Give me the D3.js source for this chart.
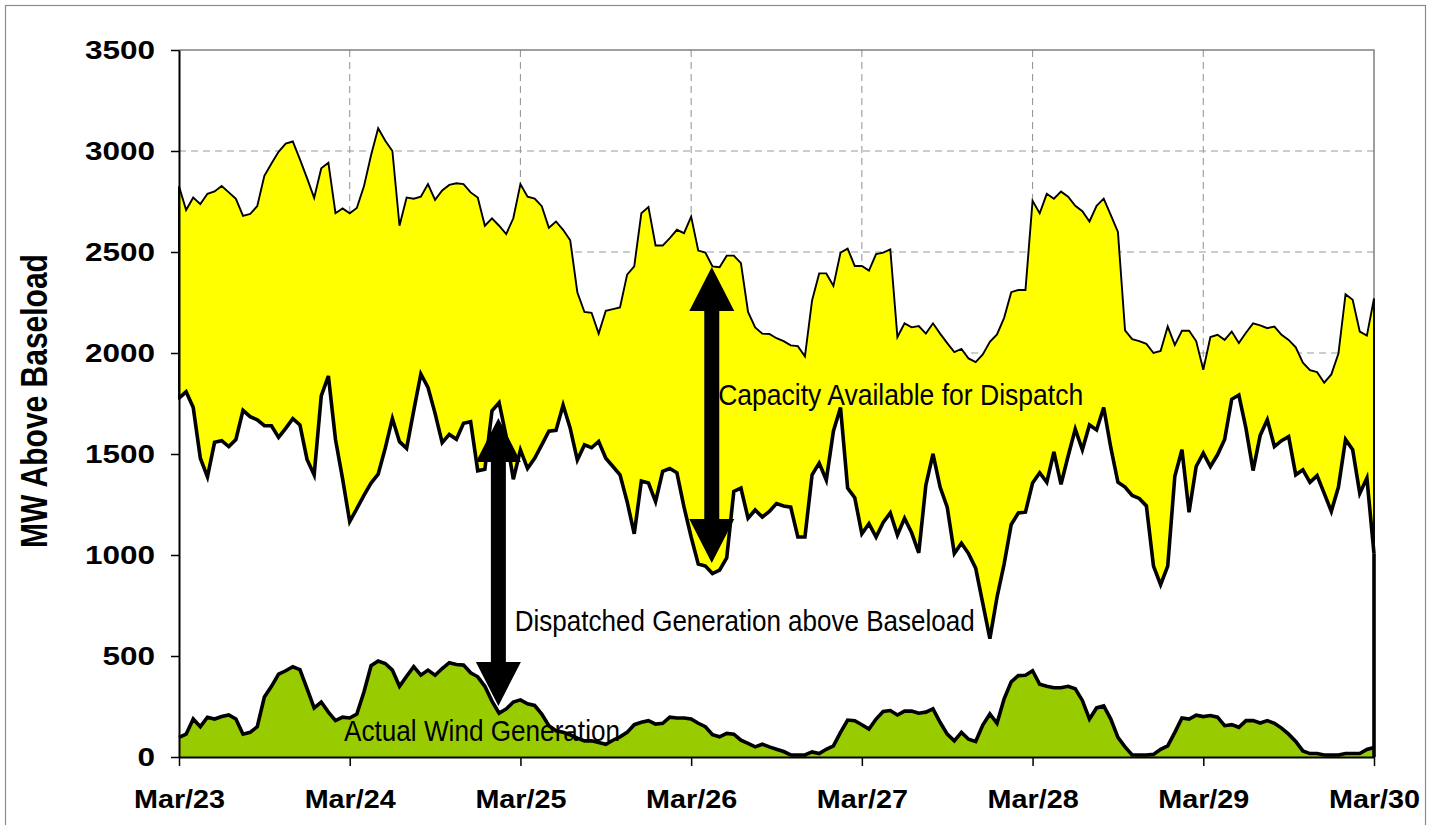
<!DOCTYPE html>
<html>
<head>
<meta charset="utf-8">
<script src="https://cdn.jsdelivr.net/npm/d3@7"></script>
<style>
  html, body { margin: 0; padding: 0; background: #fff; }
  svg { display: block; }
</style>
</head>
<body>
<svg id="chart" width="1438" height="825"></svg>
<script>
// ---------------- DATA (hourly, Mar/23 00:00 .. Mar/30 00:00) ----------------
const dayLabels = ["Mar/23","Mar/24","Mar/25","Mar/26","Mar/27","Mar/28","Mar/29","Mar/30"];
const yTicks = [0, 500, 1000, 1500, 2000, 2500, 3000, 3500];

// Total capacity available above baseload (MW) - upper edge of yellow band
const capacity = [
2825,2708,2770,2737,2788,2800,2827,2795,2763,2679,2688,2727,2877,2938,2996,3037,3047,2959,2866,2768,2914,2942,2692,2716,
2692,2718,2825,2979,3113,3051,3000,2630,2770,2764,2774,2836,2758,2805,2832,2840,2836,2795,2770,2630,2667,2630,2589,2667,
2836,2774,2764,2727,2620,2651,2610,2558,2301,2203,2199,2096,2209,2217,2225,2388,2429,2692,2723,2532,2532,2569,2610,2593,
2675,2507,2497,2429,2425,2482,2482,2445,2203,2127,2096,2094,2073,2059,2038,2034,1983,2260,2394,2394,2332,2497,2517,2431,
2431,2408,2490,2497,2513,2079,2147,2127,2133,2096,2147,2096,2049,2004,2020,1973,1955,1993,2055,2092,2174,2301,2312,2312,
2753,2692,2788,2764,2799,2774,2729,2702,2651,2729,2764,2682,2599,2112,2069,2059,2045,2000,2010,2131,2040,2110,2110,2059,
1917,2079,2090,2065,2106,2049,2100,2147,2137,2123,2131,2090,2065,2028,1952,1915,1905,1853,1894,1997,2291,2264,2106,2086,
2270];

// Dispatched generation above baseload (MW) - thick line
const dispatched = [
1777,1808,1730,1479,1387,1558,1566,1537,1572,1716,1685,1669,1640,1640,1582,1627,1675,1644,1473,1397,1788,1886,1572,1377,
1165,1229,1295,1356,1400,1530,1676,1561,1528,1715,1896,1830,1701,1556,1597,1573,1652,1660,1417,1424,1714,1754,1586,1375,
1520,1429,1479,1545,1613,1617,1742,1627,1470,1545,1531,1562,1479,1438,1397,1264,1105,1366,1356,1264,1414,1428,1407,1237,
1089,955,945,908,925,986,1315,1331,1182,1223,1188,1216,1255,1243,1237,1089,1089,1397,1455,1371,1613,1730,1331,1284,
1105,1155,1089,1161,1208,1099,1182,1110,1011,1346,1500,1336,1237,1007,1058,1007,935,760,586,791,955,1151,1208,1212,
1356,1407,1360,1510,1350,1490,1623,1521,1644,1619,1730,1531,1360,1336,1295,1280,1243,945,853,945,1390,1521,1212,1438,
1504,1438,1496,1572,1771,1792,1627,1418,1592,1669,1537,1566,1586,1397,1422,1360,1393,1305,1216,1336,1572,1521,1305,1381,
1007];

// Actual wind generation (MW) - green area
const wind = [
97,113,188,150,197,188,200,208,188,113,122,150,297,350,410,427,447,433,338,243,272,222,180,197,
193,213,322,452,475,463,430,350,400,447,405,430,405,438,467,458,455,417,397,350,277,217,238,272,
283,263,255,213,155,130,122,110,93,80,80,72,63,83,100,122,160,172,180,163,167,197,193,193,
188,167,150,110,100,117,113,83,67,50,63,50,38,27,10,10,10,25,17,38,55,122,183,180,
160,138,188,225,230,208,227,228,217,222,238,172,113,80,122,88,77,158,213,167,288,372,403,405,
427,360,350,343,343,350,338,280,188,243,253,188,97,50,10,10,10,13,38,55,122,193,188,207,
200,205,197,155,160,147,180,180,168,180,167,143,113,77,30,17,17,10,10,10,17,17,17,37,
47];

// ---------------- LAYOUT ----------------
const svg = d3.select("#chart");
const L = 179, R = 1374, T = 50, B = 757;
const nH = capacity.length - 1;
const x = d3.scaleLinear().domain([0, nH]).range([L, R]);
const y = d3.scaleLinear().domain([0, 3500]).range([B, T]);
const hours = d3.range(capacity.length);

// outer chart border
svg.append("rect").attr("x", 5.5).attr("y", 5.5).attr("width", 1420).attr("height", 830)
  .attr("fill", "none").attr("stroke", "#8c8c8c").attr("stroke-width", 1.2);

// gridlines
const grid = svg.append("g");
grid.selectAll("line.h").data(yTicks.filter(v => v > 0 && v < 3500)).join("line")
  .attr("x1", L).attr("x2", R).attr("y1", d => y(d)).attr("y2", d => y(d))
  .attr("stroke", "#9a9a9a").attr("stroke-width", 1.1).attr("stroke-dasharray", "7,5");
grid.selectAll("line.v").data(d3.range(1, dayLabels.length - 1)).join("line")
  .attr("x1", d => x(d * 24)).attr("x2", d => x(d * 24)).attr("y1", T).attr("y2", B)
  .attr("stroke", "#9a9a9a").attr("stroke-width", 1.1).attr("stroke-dasharray", "7,5");

// plot-area border (top & right)
svg.append("path").attr("d", `M${L},${T}H${R}V${B}`)
  .attr("fill", "none").attr("stroke", "#808080").attr("stroke-width", 1.5);

// areas
const yellowArea = d3.area().x(i => x(i)).y0(i => y(dispatched[i])).y1(i => y(capacity[i]));
const whiteArea = d3.area().x(i => x(i)).y0(i => y(wind[i])).y1(i => y(dispatched[i]));
const greenArea = d3.area().x(i => x(i)).y0(y(0)).y1(i => y(wind[i]));

svg.append("path").attr("d", yellowArea(hours)).attr("fill", "#ffff00")
  .attr("stroke", "#000").attr("stroke-width", 1.9).attr("stroke-linejoin", "miter");
svg.append("path").attr("d", whiteArea(hours)).attr("fill", "#ffffff");
svg.append("path").attr("d", greenArea(hours)).attr("fill", "#99cc00");

// thick lines
const line = (arr) => d3.line().x(i => x(i)).y(i => y(arr[i]))(hours);
svg.append("path").attr("d", line(dispatched)).attr("fill", "none")
  .attr("stroke", "#000").attr("stroke-width", 3.6).attr("stroke-linejoin", "miter");
svg.append("path").attr("d", line(wind)).attr("fill", "none")
  .attr("stroke", "#000").attr("stroke-width", 3.6).attr("stroke-linejoin", "miter");
// right closing edge of the stacked areas
svg.append("line").attr("x1", x(nH)).attr("x2", x(nH))
  .attr("y1", y(dispatched[nH])).attr("y2", y(0))
  .attr("stroke", "#000").attr("stroke-width", 3.6);

// stretch helper (reference text is horizontally stretched)
function stretch(sel, f) {
  sel.each(function () {
    const w = this.getComputedTextLength();
    d3.select(this).attr("textLength", w * f).attr("lengthAdjust", "spacingAndGlyphs");
  });
}

// y axis
const yAxis = svg.append("g").attr("transform", `translate(${L},0)`)
  .call(d3.axisLeft(y).tickValues(yTicks).tickFormat(d3.format("d"))
    .tickSize(8).tickSizeOuter(0).tickPadding(16));
yAxis.select(".domain").attr("stroke", "#000").attr("stroke-width", 2);
yAxis.selectAll(".tick line").attr("stroke", "#000").attr("stroke-width", 1.5);
yAxis.selectAll(".tick text")
  .attr("font-family", "'Liberation Sans', Arial, sans-serif")
  .attr("font-weight", "bold").attr("font-size", 25).attr("fill", "#000");
stretch(yAxis.selectAll(".tick text"), 1.26);

// x axis
const xAxis = svg.append("g").attr("transform", `translate(0,${B})`)
  .call(d3.axisBottom(x).tickValues(d3.range(0, dayLabels.length).map(d => d * 24))
    .tickFormat((d, k) => dayLabels[k]).tickSize(9).tickSizeOuter(0).tickPadding(24));
xAxis.select(".domain").attr("stroke", "#000").attr("stroke-width", 2);
xAxis.selectAll(".tick line").attr("stroke", "#000").attr("stroke-width", 1.5);
xAxis.selectAll(".tick text")
  .attr("font-family", "'Liberation Sans', Arial, sans-serif")
  .attr("font-weight", "bold").attr("font-size", 25).attr("fill", "#000");
stretch(xAxis.selectAll(".tick text"), 1.15);

// y axis title
svg.append("text")
  .attr("transform", "translate(47,401) scale(1.2,1) rotate(-90)")
  .attr("text-anchor", "middle")
  .attr("font-family", "'Liberation Sans', Arial, sans-serif")
  .attr("font-weight", "bold").attr("font-size", 30).attr("fill", "#000")
  .text("MW Above Baseload");

// double-headed arrows
function arrow(xi, vTop, vBot) {
  const cx = x(xi), yt = y(vTop), yb = y(vBot);
  const sw = 7.5, hw = 22.5, hl = 44;
  const pts = [
    [cx, yt], [cx + hw, yt + hl], [cx + sw, yt + hl], [cx + sw, yb - hl], [cx + hw, yb - hl],
    [cx, yb], [cx - hw, yb - hl], [cx - sw, yb - hl], [cx - sw, yt + hl], [cx - hw, yt + hl]
  ];
  svg.append("path").attr("d", "M" + pts.map(p => p.join(",")).join("L") + "Z").attr("fill", "#000");
}
arrow(74.9, 2426, 960);
arrow(44.9, 1678, 253);

// annotations (condensed face, as in the reference)
const annFont = "'Liberation Sans Narrow', 'Liberation Sans', Arial, sans-serif";
function note(xi, v, txt, width) {
  svg.append("text").attr("x", x(xi)).attr("y", y(v))
    .attr("font-family", annFont).attr("font-size", 30).attr("fill", "#000")
    .attr("textLength", width).attr("lengthAdjust", "spacingAndGlyphs")
    .text(txt);
}
note(75.8, 1742, "Capacity Available for Dispatch", 365);
note(47.2, 624, "Dispatched Generation above Baseload", 460);
note(23.2, 79, "Actual Wind Generation", 276);
</script>
</body>
</html>
